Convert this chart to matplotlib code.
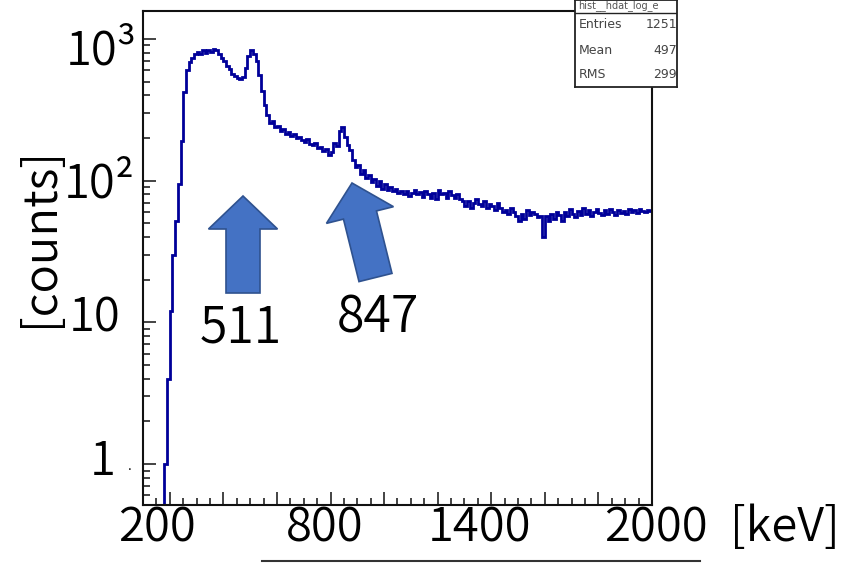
import numpy as np
import matplotlib
matplotlib.use('Agg')
import matplotlib.pyplot as plt
from matplotlib.patches import FancyArrow
from matplotlib.lines import Line2D
from matplotlib.ticker import MultipleLocator, LogLocator, NullFormatter

plt.rcParams['font.family'] = ['Noto Sans CJK JP', 'DejaVu Sans']
plt.rcParams['font.weight'] = 350

# --- データ (10 keV ビン, 180 keV から) ---
bin_start = 180
bin_width = 10
counts = [
    1, 4, 12, 30, 52, 95, 190, 420, 600, 690,
    740, 780, 810, 790, 840, 800, 830, 810, 850, 830,
    790, 740, 700, 640, 610, 570, 550, 530, 520, 540,
    620, 760, 830, 790, 700, 560, 430, 340, 290, 255,
    262, 240, 245, 225, 232, 215, 222, 208, 212, 200,
    205, 195, 188, 198, 182, 178, 184, 170, 172, 162,
    168, 152, 160, 185, 175, 225, 240, 205, 180, 165,
    140, 125, 130, 112, 118, 105, 110, 98, 102, 92,
    100, 88, 95, 86, 90, 84, 88, 82, 85, 80,
    84, 78, 82, 86, 80, 83, 77, 84, 80, 76,
    82, 74, 86, 80, 82, 76, 84, 79, 75, 80,
    74, 72, 66, 72, 64, 70, 74, 68, 66, 72,
    64, 69, 66, 62, 70, 64, 60, 62, 58, 64,
    60, 56, 52, 58, 54, 62, 57, 60, 58, 55,
    56, 40, 56, 52, 58, 54, 60, 57, 52, 60,
    56, 63, 58, 55, 61, 57, 64, 58, 62, 56,
    60, 63, 59, 57, 62, 58, 63, 60, 57, 62,
    59, 61, 58, 63, 60, 62, 59, 63, 61, 60,
    62, 61,
]
edges = bin_start + bin_width * np.arange(len(counts) + 1)

x_tick_labels = ['200', '800', '1400', '2000']
y_tick_labels = ['10³', '10²', '10', '1']
peak_labels = ['511', '847']
stats_names = ['Entries', 'Mean', 'RMS']
stats_values = ['1251', '497', '299']

W, H = 854, 563


def fx(x):
    return x / W


def fy(y):
    return 1 - y / H


fig = plt.figure(figsize=(W / 100, H / 100), dpi=100)

ax = fig.add_axes([fx(143), fy(505), (652 - 143) / W, (505 - 10.7) / H])
ax.stairs(counts, edges, baseline=0.05, color='#000099', lw=2.0)
ax.set_xlim(100, 2000)
ax.set_yscale('log')
ax.set_ylim(0.514, 1584)

ax.xaxis.set_major_locator(MultipleLocator(200))
ax.xaxis.set_minor_locator(MultipleLocator(50))
ax.yaxis.set_major_locator(LogLocator(base=10, numticks=10))
ax.yaxis.set_minor_locator(LogLocator(base=10, subs=np.arange(2, 10), numticks=10))
ax.yaxis.set_minor_formatter(NullFormatter())
ax.tick_params(which='both', direction='in', labelbottom=False, labelleft=False,
               top=False, right=False, width=1.1, color='#111')
ax.tick_params(which='major', length=9.5)
ax.tick_params(which='minor', length=5)
for s in ax.spines.values():
    s.set_linewidth(1.5)
    s.set_color('#111')

# 軸ラベル (スライド上に重ねたテキスト)
for lab, (x, y) in zip(y_tick_labels, [(137, 51), (135, 184), (121, 318), (116, 462)]):
    fig.text(fx(x), fy(y), lab, fontsize=34, ha='right', va='center')
fig.text(fx(130), fy(466), '.', fontsize=10, ha='center', va='center')
for lab, x in zip(x_tick_labels, [157, 325, 480, 656]):
    fig.text(fx(x), fy(528), lab, fontsize=34, ha='center', va='center')
fig.text(fx(785), fy(528), '[keV]', fontsize=34, ha='center', va='center')
fig.text(fx(40), fy(237), '[counts]', fontsize=34, rotation=90, ha='center', va='center')
fig.add_artist(Line2D([fx(262), fx(700)], [fy(561), fy(561)],
                      transform=fig.transFigure, color='#333', lw=1.5))

# 矢印
arrow_kw = dict(width=0.34, head_width=0.69, head_length=0.33, length_includes_head=True,
                facecolor='#4472C4', edgecolor='#2F528F', lw=1.2,
                transform=fig.dpi_scale_trans)
fig.add_artist(FancyArrow(2.43, (H - 293) / 100, 0.0, 0.97, **arrow_kw))
fig.add_artist(FancyArrow(3.755, (H - 277.5) / 100, -0.235, 0.945, **arrow_kw))
fig.text(fx(241), fy(328), peak_labels[0], fontsize=36, ha='center', va='center')
fig.text(fx(378), fy(318), peak_labels[1], fontsize=36, ha='center', va='center')

# 統計ボックス
sb = fig.add_axes([fx(575), fy(87), (677 - 575) / W, 87 / H])
sb.set_xlim(0, 1)
sb.set_ylim(0, 1)
sb.set_xticks([])
sb.set_yticks([])
sb.set_facecolor('white')
for s in sb.spines.values():
    s.set_linewidth(1.3)
    s.set_color('#222')
sb.axhline(1 - 13 / 87, color='#222', lw=1.0)
sb.text(0.03, 1 - 6 / 87, 'hist__hdat_log_e', fontsize=7, color='#555', fontweight='normal',
        va='center', ha='left', family='DejaVu Sans', clip_on=True)
for name, val, y in zip(stats_names, stats_values, [25, 50, 75]):
    sb.text(0.04, 1 - y / 87, name, fontsize=9, color='#444', va='center',
            ha='left', family='DejaVu Sans', fontweight='normal')
    sb.text(1.0, 1 - y / 87, val, fontsize=9, color='#444', va='center',
            ha='right', family='DejaVu Sans', fontweight='normal', clip_on=True)

fig.savefig('out.png', dpi=100, facecolor='white')
